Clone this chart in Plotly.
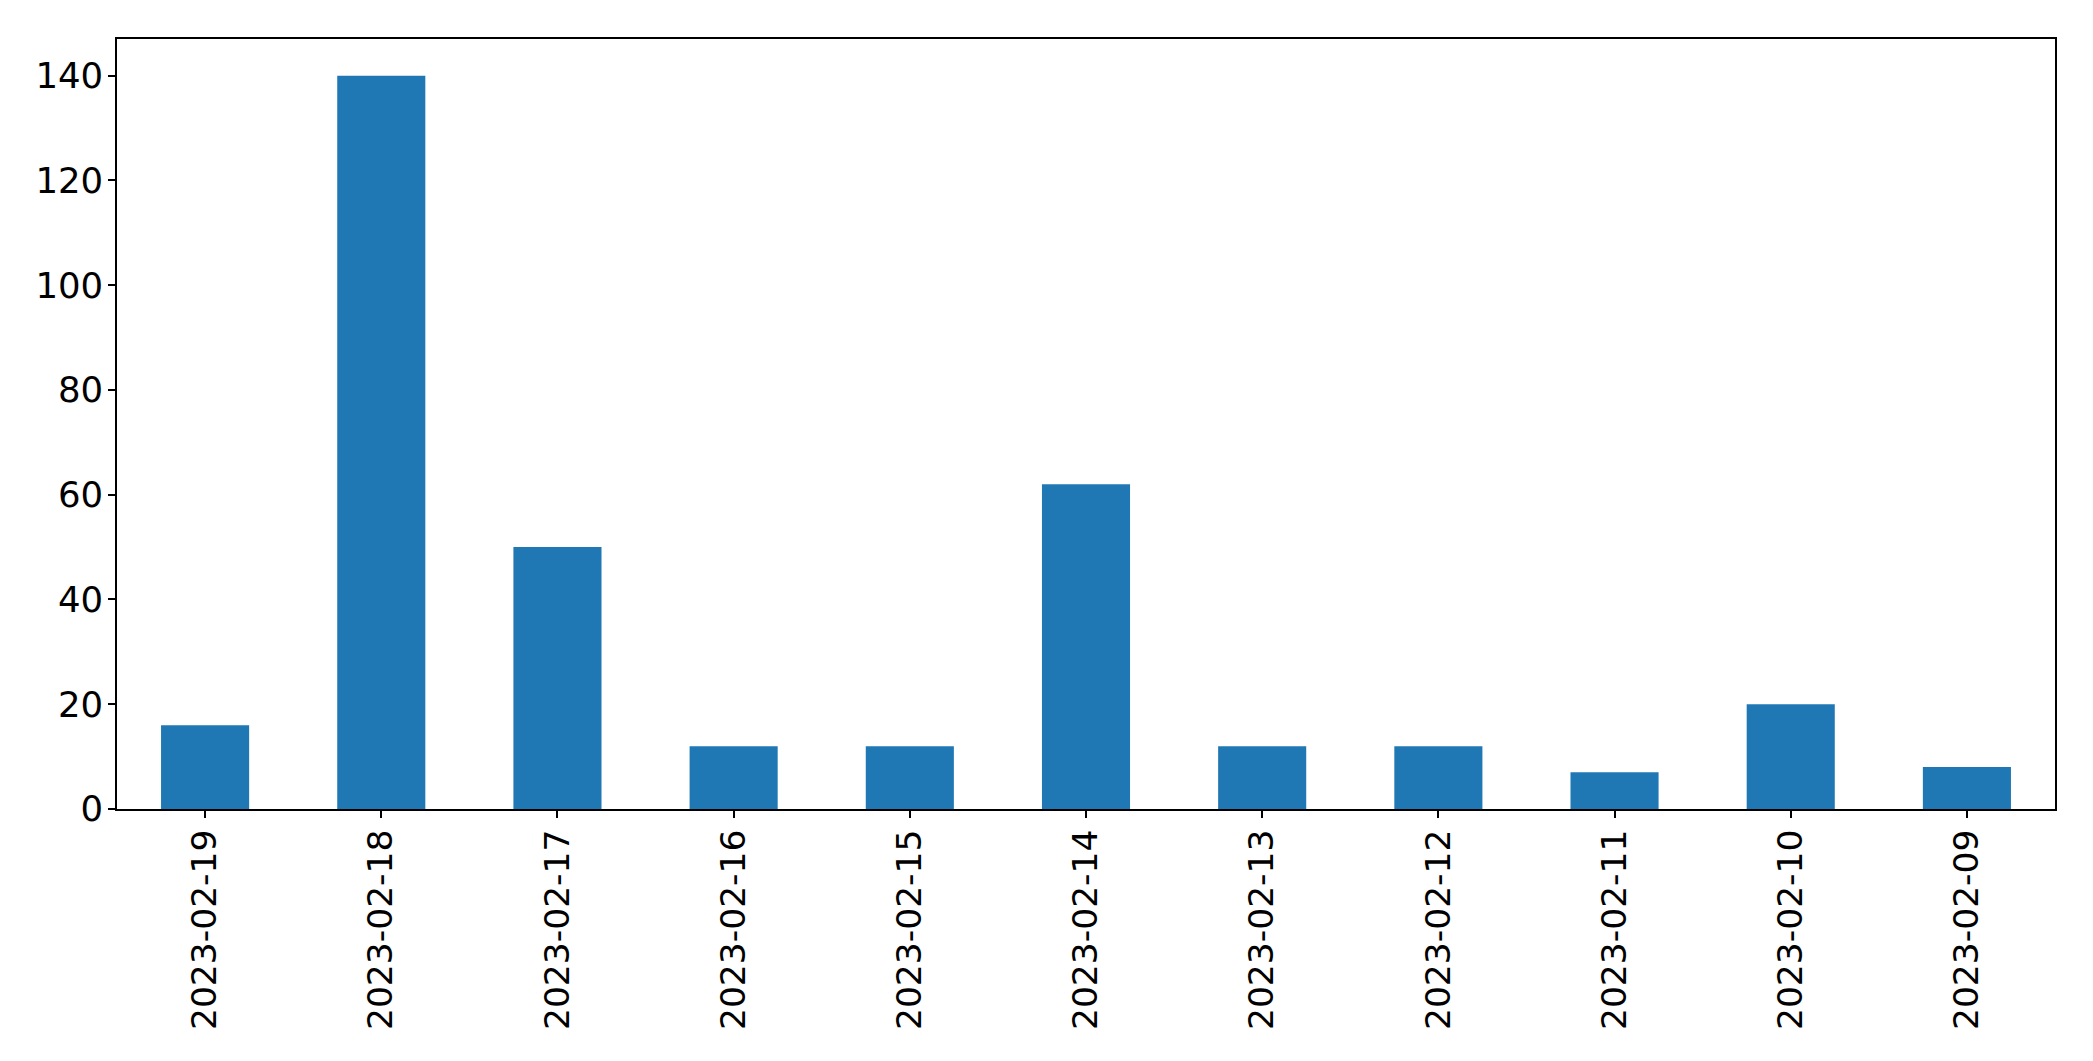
import plotly.graph_objects as go

dates = ["2023-02-19", "2023-02-18", "2023-02-17", "2023-02-16", "2023-02-15",
         "2023-02-14", "2023-02-13", "2023-02-12", "2023-02-11", "2023-02-10",
         "2023-02-09"]
counts = [16, 140, 50, 12, 12, 62, 12, 12, 7, 20, 8]
y_ticks = [0, 20, 40, 60, 80, 100, 120, 140]

fig = go.Figure(go.Bar(x=dates, y=counts, marker=dict(color="#1f77b4", line=dict(width=0)), width=0.5))

xfont = dict(family="DejaVu Sans", size=34.5, color="black")
yfont = dict(family="DejaVu Sans", size=35.5, color="black")
fig.update_layout(
    width=2093, height=1061,
    margin=dict(l=117, r=38, t=39, b=252),
    paper_bgcolor="white", plot_bgcolor="white",
    showlegend=False,
    font=xfont,
)
fig.update_xaxes(
    type="category", range=[-0.5, 10.5], tickangle=-90,
    showline=True, linecolor="black", linewidth=1.5, mirror=True,
    ticks="outside", ticklen=7, tickwidth=1.5, tickcolor="black",
    showgrid=False, tickfont=xfont, ticklabelstandoff=-2,
)
fig.update_yaxes(
    range=[0, 147], tickvals=y_ticks, ticktext=[str(v) for v in y_ticks],
    showline=True, linecolor="black", linewidth=1.5, mirror=True,
    ticks="outside", ticklen=7, tickwidth=1.5, tickcolor="black",
    showgrid=False, zeroline=False, tickfont=yfont, ticklabelstandoff=-2,
)

fig.write_html("out.html", config={"displayModeBar": False},
               post_script="document.body.style.margin='0';document.body.style.overflow='hidden';")
